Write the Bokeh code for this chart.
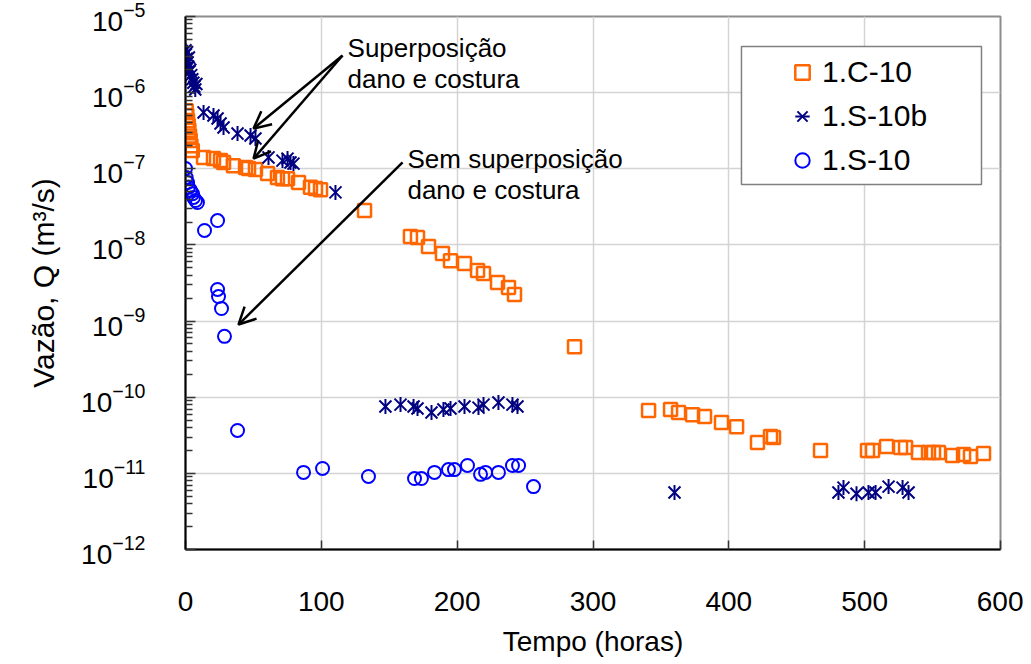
from bokeh.plotting import figure
from bokeh.models import (Legend, LegendItem, FixedTicker, Arrow, OpenHead, Label,
                          BoxAnnotation, LogTickFormatter)
from bokeh.embed import file_html
from bokeh.resources import INLINE

# ---------------- data ----------------
c10_t = [0.5, 1.0, 1.5, 2.0, 2.5, 3.0, 3.5, 4.0, 5.0,
         13.3, 20.6, 25.8, 28.0, 35.3, 44.2, 46.4, 51.5, 60.4, 67.7, 71.4, 75.1,
         83.2, 92.0, 95.7, 99.4,
         131.8, 165.6, 170.8, 178.9, 189.2, 195.1, 205.4, 215.0, 219.4, 229.7, 237.8, 242.2,
         286.4, 340.9, 357.1, 363.0, 373.3, 382.1, 394.6, 405.7, 421.1, 430.7, 432.9,
         467.5, 502.1, 505.8, 516.1, 526.4, 530.1, 539.6, 547.0, 550.7, 554.4,
         564.7, 572.8, 577.9, 587.5]
c10_q = [5.8e-7, 5.0e-7, 4.3e-7, 3.7e-7, 3.2e-7, 2.7e-7, 2.35e-7, 2.0e-7, 1.74e-7,
         1.41e-7, 1.36e-7, 1.28e-7, 1.21e-7, 1.10e-7, 1.04e-7, 1.01e-7, 9.8e-8, 8.7e-8, 7.7e-8, 7.4e-8, 7.4e-8,
         6.6e-8, 5.7e-8, 5.5e-8, 5.3e-8,
         2.83e-8, 1.29e-8, 1.25e-8, 9.5e-9, 7.7e-9, 6.2e-9, 5.7e-9, 4.6e-9, 4.2e-9, 3.2e-9, 2.76e-9, 2.23e-9,
         4.6e-10, 6.7e-11, 6.9e-11, 6.3e-11, 5.9e-11, 5.6e-11, 4.65e-11, 4.1e-11, 2.54e-11, 3.05e-11, 2.95e-11,
         2.0e-11, 2.0e-11, 2.0e-11, 2.25e-11, 2.18e-11, 2.18e-11, 1.88e-11, 1.88e-11, 1.88e-11, 1.88e-11,
         1.72e-11, 1.77e-11, 1.66e-11, 1.82e-11]

s10b_t = [0.0, 0.3, 0.8, 1.2, 1.6, 2.0, 2.5, 3.0, 3.5, 4.2, 5.0, 5.8, 6.5, 7.2, 8.0,
          13.3, 20.6, 23.6, 25.8, 28.0, 38.3, 47.9, 51.5, 61.1, 71.4, 75.1, 77.3, 79.5, 110.4,
          147.2, 158.3, 167.9, 170.8, 181.1, 189.9, 195.1, 205.4, 215.7, 219.4, 230.4, 240.7, 244.4,
          360.0, 480.7, 484.4, 494.0, 502.8, 508.0, 517.6, 527.9, 532.3]
s10b_q = [3.6e-6, 3.2e-6, 2.8e-6, 3.4e-6, 2.5e-6, 2.2e-6, 2.9e-6, 1.9e-6, 2.0e-6, 1.7e-6, 1.5e-6, 1.35e-6, 1.2e-6, 1.1e-6, 1.3e-6,
          5.5e-7, 5.0e-7, 4.57e-7, 3.93e-7, 3.48e-7, 2.9e-7, 2.74e-7, 2.5e-7, 1.41e-7, 1.28e-7, 1.36e-7, 1.21e-7, 1.17e-7, 4.9e-8,
          7.55e-11, 8.0e-11, 7.55e-11, 7.1e-11, 6.3e-11, 6.9e-11, 7.1e-11, 7.55e-11, 7.3e-11, 8.0e-11, 8.5e-11, 8.0e-11, 7.55e-11,
          5.6e-12, 5.6e-12, 6.5e-12, 5.4e-12, 5.6e-12, 5.6e-12, 6.7e-12, 6.5e-12, 5.6e-12]

s10_t = [0.0, 0.5, 1.5, 2.2, 3.7, 5.2, 5.9, 7.4, 8.8,
         23.6, 14.0, 23.6, 24.3, 26.5, 28.7, 38.3,
         86.9, 100.9, 134.7, 168.6, 173.7, 183.3, 193.6, 198.0, 207.6, 217.2, 220.9, 230.4, 240.7, 245.2, 256.2]
s10_q = [1.01e-7, 7.7e-8, 6.6e-8, 5.7e-8, 5.2e-8, 4.7e-8, 4.2e-8, 3.83e-8, 3.6e-8,
         2.09e-8, 1.55e-8, 2.6e-9, 2.1e-9, 1.46e-9, 6.3e-10, 3.66e-11,
         1.03e-11, 1.16e-11, 9.1e-12, 8.55e-12, 8.55e-12, 1.03e-11, 1.12e-11, 1.12e-11, 1.27e-11, 9.7e-12, 1.03e-11,
         1.03e-11, 1.27e-11, 1.27e-11, 6.7e-12]

series_labels = ["1.C-10", "1.S-10b", "1.S-10"]
x_ticks = [0, 100, 200, 300, 400, 500, 600]
y_ticks = [1e-12, 1e-11, 1e-10, 1e-9, 1e-8, 1e-7, 1e-6, 1e-5]

# annotation texts and arrows (data coordinates)
note1_lines = ["Superposição", "dano e costura"]
note1_t = 119.3
note1_q = [3.9e-6, 1.53e-6]
note2_lines = ["Sem superposição", "dano e costura"]
note2_t = 163.4
note2_q = [1.36e-7, 5.2e-8]
arrow_start_t = [115.6, 115.6, 159.8]
arrow_start_q = [3.07e-6, 3.07e-6, 1.21e-7]
arrow_end_t = [50.1, 50.1, 39.0]
arrow_end_q = [3.38e-7, 1.36e-7, 9.0e-10]

# legend frame (data coordinates)
legend_box_t = [409.3, 586.0]
legend_box_q = [6.22e-8, 4.03e-6]

FONT = "Liberation Sans"
ORANGE = "#FF6600"
NAVY = "#000080"
BLUE = "#0000FF"

p = figure(width=1023, height=664, y_axis_type="log",
           x_range=(0, 600), y_range=(1e-12, 1e-5),
           output_backend="svg", toolbar_location=None,
           min_border_left=185, min_border_right=23,
           min_border_top=16, min_border_bottom=115)

p.background_fill_color = "white"
p.border_fill_color = "white"
p.outline_line_color = "#8c8c8c"
p.outline_line_width = 2

# grid
p.xgrid.ticker = x_ticks
p.xgrid.grid_line_color = "#d4d4d4"
p.xgrid.grid_line_width = 1.5
p.ygrid.grid_line_color = "#d4d4d4"
p.ygrid.grid_line_width = 1.5

# x axis
xa = p.xaxis[0]
xa.ticker = x_ticks
xa.axis_label = "Tempo (horas)"
xa.axis_label_text_font = FONT
xa.axis_label_text_font_size = "28px"
xa.axis_label_text_font_style = "normal"
xa.axis_label_text_color = "black"
xa.axis_label_standoff = 12
xa.major_label_text_font = FONT
xa.major_label_text_font_size = "28px"
xa.major_label_text_color = "black"
xa.major_label_standoff = 42
xa.major_tick_in = 9
xa.major_tick_out = 0
xa.minor_tick_line_color = None
xa.axis_line_color = "black"
xa.axis_line_width = 2
xa.major_tick_line_color = "#333333"
xa.major_tick_line_width = 1.5

# y axis
minor = [m * d for d in y_ticks[:-1] for m in range(2, 10)]
ya = p.yaxis[0]
ya.ticker = FixedTicker(ticks=y_ticks, minor_ticks=minor)
ya.formatter = LogTickFormatter()
ya.axis_label = "Vazão, Q (m³/s)"
ya.axis_label_text_font = FONT
ya.axis_label_text_font_size = "30px"
ya.axis_label_text_font_style = "normal"
ya.axis_label_text_color = "black"
ya.axis_label_standoff = 18
ya.major_label_text_font = FONT
ya.major_label_text_font_size = "28px"
ya.major_label_text_color = "black"
ya.major_label_standoff = 40
ya.major_tick_in = 10
ya.major_tick_out = 0
ya.minor_tick_in = 7
ya.minor_tick_out = 0
ya.axis_line_color = "black"
ya.axis_line_width = 2
ya.major_tick_line_color = "#333333"
ya.major_tick_line_width = 1.5
ya.minor_tick_line_color = "#333333"
ya.minor_tick_line_width = 1.5

# data
r1 = p.scatter(c10_t, c10_q, marker="square", size=13, fill_color=None,
               line_color=ORANGE, line_width=2.5)
r2a = p.scatter(s10b_t, s10b_q, marker="x", size=17, line_color=NAVY, line_width=2)
r2b = p.scatter(s10b_t, s10b_q, marker="dash", angle=1.5708, size=15, line_color=NAVY, line_width=2)
r3 = p.scatter(s10_t, s10_q, marker="circle", size=13, fill_color=None,
               line_color=BLUE, line_width=2)

# arrows
for xs, ys, xe, ye in zip(arrow_start_t, arrow_start_q, arrow_end_t, arrow_end_q):
    p.add_layout(Arrow(x_start=xs, y_start=ys, x_end=xe, y_end=ye,
                       line_color="black", line_width=2.5,
                       end=OpenHead(size=17, line_color="black", line_width=2.5)))

# notes
for txt, q in zip(note1_lines, note1_q):
    p.add_layout(Label(x=note1_t, y=q, text=txt, text_font=FONT, text_font_size="26px",
                       text_color="black", text_baseline="alphabetic", text_align="left"))
for txt, q in zip(note2_lines, note2_q):
    p.add_layout(Label(x=note2_t, y=q, text=txt, text_font=FONT, text_font_size="26px",
                       text_color="black", text_baseline="alphabetic", text_align="left"))

# legend frame + legend
p.add_layout(BoxAnnotation(left=legend_box_t[0], right=legend_box_t[1],
                           bottom=legend_box_q[0], top=legend_box_q[1],
                           fill_color="white", fill_alpha=1.0,
                           line_color="#808080", line_width=1.5, line_alpha=1.0))

legend = Legend(items=[LegendItem(label=series_labels[0], renderers=[r1]),
                       LegendItem(label=series_labels[1], renderers=[r2a, r2b]),
                       LegendItem(label=series_labels[2], renderers=[r3])],
                location=(597, 371), padding=0, spacing=8, margin=0,
                glyph_width=40, glyph_height=36, label_height=36,
                label_standoff=0,
                label_text_font=FONT, label_text_font_size="30px",
                label_text_color="black",
                border_line_color=None,
                background_fill_alpha=0.0)
p.add_layout(legend)

open("out.html", "w").write(file_html(p, INLINE))
